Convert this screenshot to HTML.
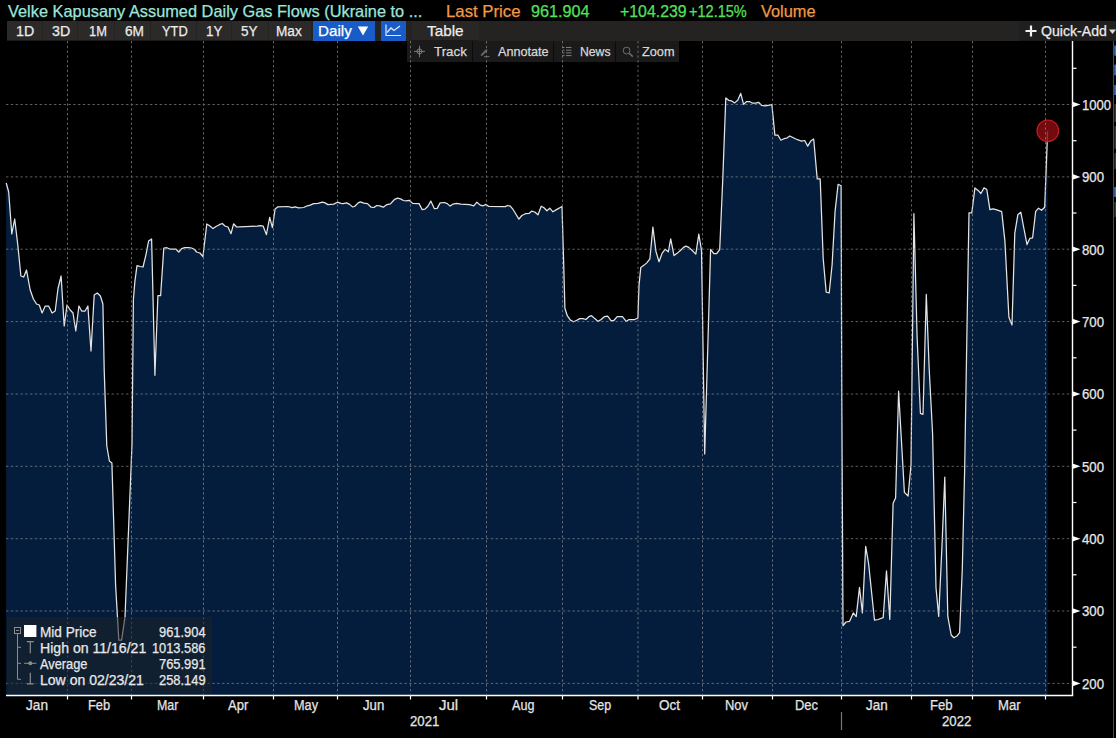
<!DOCTYPE html>
<html><head><meta charset="utf-8"><title>chart</title>
<style>
html,body{margin:0;padding:0;background:#000;}
body{width:1116px;height:738px;position:relative;overflow:hidden;font-family:"Liberation Sans",sans-serif;color:#e6e6e6;}
.abs{position:absolute;white-space:nowrap;}
.ft{position:absolute;white-space:nowrap;transform-origin:0 50%;-webkit-text-stroke:0.25px currentColor;}
.bar{position:absolute;left:7px;top:21px;width:1109px;height:20px;background:#252321;}
.btn{position:absolute;top:21px;height:19px;background:#2b2a29;border-bottom:1px solid #1a1a1a;}
.tool{position:absolute;left:407px;top:41.3px;width:271.5px;height:20.3px;background:#1a1a1a;}
.sep{position:absolute;top:41.3px;width:1.2px;height:20.3px;background:#0b0b0b;}
.xl{position:absolute;top:697px;width:50px;height:16px;line-height:16px;text-align:center;font-size:14px;color:#e0e0e0;}
.xl.yr{top:713px;}
.leg{position:absolute;left:7px;top:616.5px;width:205px;height:77.5px;background:rgba(30,34,40,0.55);}
.lt{position:absolute;height:16px;line-height:16px;font-size:13.5px;color:#e4e4e4;white-space:nowrap;}
</style></head><body>
<div class="tool"></div>
<div class="sep" style="left:472px"></div><div class="sep" style="left:553px"></div><div class="sep" style="left:615px"></div>
<svg width="1116" height="738" viewBox="0 0 1116 738" style="position:absolute;left:0;top:0"><path d="M6.2,183.0 L8.7,192.0 L11.8,234.0 L14.7,219.0 L17.8,245.0 L20.9,276.0 L23.7,277.0 L26.5,270.0 L30.2,290.0 L33.4,299.0 L36.5,304.0 L39.3,305.0 L42.1,313.0 L45.2,306.0 L48.6,306.0 L52.1,313.0 L55.2,311.0 L58.0,288.5 L61.1,276.0 L64.2,326.0 L67.0,305.0 L70.2,310.0 L73.0,313.0 L75.8,331.0 L78.9,306.0 L81.7,311.0 L85.1,311.0 L87.9,306.0 L91.0,351.0 L94.2,295.0 L97.3,293.0 L100.4,296.0 L102.9,304.0 L104.2,370.0 L106.8,446.0 L109.4,461.0 L111.9,463.0 L115.6,585.0 L118.8,640.0 L121.6,640.0 L125.0,617.0 L132.0,444.0 L133.4,299.3 L134.9,281.4 L137.0,265.6 L140.0,266.5 L143.0,267.0 L146.0,254.6 L148.6,241.0 L151.6,239.0 L154.9,375.3 L157.9,295.7 L160.6,295.7 L163.8,248.0 L166.8,247.7 L169.8,249.0 L172.8,249.0 L175.8,249.0 L178.8,252.0 L181.7,248.6 L184.7,247.7 L188.6,247.7 L191.6,248.0 L194.6,249.5 L196.6,252.0 L199.9,253.0 L202.9,256.6 L206.8,224.0 L210.0,226.0 L213.0,228.6 L216.0,226.5 L219.3,224.7 L222.3,223.5 L225.0,226.0 L228.0,227.0 L231.0,233.7 L233.6,223.8 L236.6,227.0 L239.6,226.8 L257.2,226.2 L260.2,225.6 L263.2,226.2 L266.4,234.6 L269.7,217.3 L272.4,227.7 L275.1,209.0 L278.0,206.8 L288.0,206.5 L292.2,207.7 L295.0,206.9 L298.7,207.9 L303.7,207.5 L307.3,205.8 L310.2,205.1 L313.7,203.6 L318.0,203.4 L322.3,202.2 L324.5,202.6 L328.0,204.6 L333.8,204.1 L337.4,202.2 L341.0,203.4 L343.0,203.6 L346.7,202.9 L349.6,204.4 L352.5,206.9 L354.6,206.5 L358.2,202.9 L360.3,201.9 L363.9,203.2 L367.5,203.6 L371.1,207.2 L374.0,207.5 L376.8,205.5 L379.7,205.8 L383.3,207.2 L386.9,204.6 L390.4,203.9 L394.7,199.3 L397.6,198.2 L400.5,198.9 L403.4,200.5 L406.2,200.8 L409.1,200.3 L412.7,203.4 L419.1,203.6 L422.2,209.7 L425.0,209.1 L427.9,206.2 L430.8,201.1 L434.4,208.7 L437.2,208.4 L440.1,202.9 L444.4,202.5 L447.3,203.6 L450.1,206.1 L453.0,204.1 L456.6,203.4 L460.9,204.1 L469.5,204.6 L473.8,205.8 L476.9,202.2 L480.2,205.1 L483.1,205.8 L486.0,204.4 L488.8,206.5 L505.3,206.6 L507.5,205.5 L510.3,206.2 L513.2,209.7 L518.9,219.1 L521.8,215.5 L525.4,213.7 L529.0,213.4 L531.8,211.1 L534.7,212.0 L538.0,214.8 L541.2,206.2 L544.0,207.7 L546.9,210.8 L549.8,208.2 L552.9,211.8 L556.9,209.4 L559.8,207.7 L562.0,206.5 L563.5,256.9 L564.9,308.2 L567.3,315.7 L570.2,319.9 L573.4,321.8 L576.4,320.5 L579.7,318.6 L583.1,318.6 L585.9,319.5 L588.8,316.7 L591.6,315.7 L594.8,318.6 L598.1,321.4 L601.1,319.5 L604.3,316.7 L607.7,316.1 L611.0,320.5 L613.8,320.5 L617.2,316.7 L622.4,316.7 L626.2,321.4 L629.0,319.5 L634.7,319.5 L637.9,318.0 L639.0,285.4 L640.8,267.4 L644.2,265.1 L647.0,262.6 L649.9,258.8 L652.9,227.1 L655.9,251.2 L659.0,261.7 L662.2,253.1 L665.1,249.3 L668.3,251.8 L670.7,238.9 L674.0,255.6 L677.4,253.1 L680.6,250.3 L683.5,247.4 L685.9,246.1 L688.8,247.4 L692.0,250.3 L695.8,254.1 L698.8,234.2 L701.5,250.3 L704.7,454.0 L710.6,249.3 L713.8,253.5 L716.7,253.5 L719.7,249.7 L722.8,178.3 L725.8,97.9 L728.7,100.3 L731.7,100.9 L734.7,102.9 L737.7,100.3 L740.7,93.4 L743.6,104.4 L746.6,101.5 L749.6,101.5 L752.6,103.2 L755.6,103.2 L758.5,102.3 L761.5,105.3 L765.1,105.9 L768.1,105.3 L771.9,104.7 L774.9,135.1 L777.9,135.1 L780.9,140.2 L783.9,138.7 L786.8,138.1 L789.8,136.0 L792.8,137.5 L795.8,139.0 L798.8,140.2 L801.7,141.1 L804.7,140.5 L807.7,146.1 L810.7,141.1 L813.7,139.0 L817.2,178.9 L820.2,178.9 L823.2,258.8 L826.2,292.2 L829.2,293.0 L832.1,264.7 L835.1,211.1 L838.1,184.3 L841.1,185.8 L841.8,400.0 L843.0,625.7 L846.0,622.0 L849.6,621.3 L853.3,612.9 L856.2,616.6 L859.5,587.4 L862.4,612.9 L865.7,546.4 L868.6,563.6 L874.5,620.2 L878.1,619.5 L883.2,617.7 L886.5,570.9 L889.8,619.5 L893.1,503.3 L895.6,497.9 L898.6,391.2 L904.4,492.4 L908.1,496.0 L911.0,465.0 L913.9,213.7 L917.1,336.8 L920.4,413.3 L923.0,414.3 L926.3,294.4 L929.2,369.3 L932.6,433.8 L936.0,587.7 L938.7,616.4 L942.0,545.4 L944.8,477.1 L947.8,616.4 L951.2,635.0 L953.9,637.7 L957.3,635.7 L959.6,632.7 L962.3,569.1 L964.7,467.6 L966.8,340.0 L969.0,212.8 L971.8,212.8 L974.9,187.9 L978.1,190.4 L980.9,193.5 L984.0,187.9 L986.8,189.5 L989.9,209.7 L993.0,208.8 L996.1,209.7 L1001.7,211.6 L1004.9,240.9 L1008.9,317.2 L1012.0,325.0 L1014.8,233.1 L1017.9,214.4 L1020.8,212.2 L1024.2,230.0 L1027.0,244.6 L1029.8,238.4 L1032.6,237.8 L1035.7,211.3 L1038.5,208.2 L1041.6,210.3 L1044.7,207.2 L1047.6,131.2 L1047.6,695.5 L6.2,695.5 Z" fill="#041d3c" stroke="none"/><path d="M6.2,183.0 L8.7,192.0 L11.8,234.0 L14.7,219.0 L17.8,245.0 L20.9,276.0 L23.7,277.0 L26.5,270.0 L30.2,290.0 L33.4,299.0 L36.5,304.0 L39.3,305.0 L42.1,313.0 L45.2,306.0 L48.6,306.0 L52.1,313.0 L55.2,311.0 L58.0,288.5 L61.1,276.0 L64.2,326.0 L67.0,305.0 L70.2,310.0 L73.0,313.0 L75.8,331.0 L78.9,306.0 L81.7,311.0 L85.1,311.0 L87.9,306.0 L91.0,351.0 L94.2,295.0 L97.3,293.0 L100.4,296.0 L102.9,304.0 L104.2,370.0 L106.8,446.0 L109.4,461.0 L111.9,463.0 L115.6,585.0 L118.8,640.0 L121.6,640.0 L125.0,617.0 L132.0,444.0 L133.4,299.3 L134.9,281.4 L137.0,265.6 L140.0,266.5 L143.0,267.0 L146.0,254.6 L148.6,241.0 L151.6,239.0 L154.9,375.3 L157.9,295.7 L160.6,295.7 L163.8,248.0 L166.8,247.7 L169.8,249.0 L172.8,249.0 L175.8,249.0 L178.8,252.0 L181.7,248.6 L184.7,247.7 L188.6,247.7 L191.6,248.0 L194.6,249.5 L196.6,252.0 L199.9,253.0 L202.9,256.6 L206.8,224.0 L210.0,226.0 L213.0,228.6 L216.0,226.5 L219.3,224.7 L222.3,223.5 L225.0,226.0 L228.0,227.0 L231.0,233.7 L233.6,223.8 L236.6,227.0 L239.6,226.8 L257.2,226.2 L260.2,225.6 L263.2,226.2 L266.4,234.6 L269.7,217.3 L272.4,227.7 L275.1,209.0 L278.0,206.8 L288.0,206.5 L292.2,207.7 L295.0,206.9 L298.7,207.9 L303.7,207.5 L307.3,205.8 L310.2,205.1 L313.7,203.6 L318.0,203.4 L322.3,202.2 L324.5,202.6 L328.0,204.6 L333.8,204.1 L337.4,202.2 L341.0,203.4 L343.0,203.6 L346.7,202.9 L349.6,204.4 L352.5,206.9 L354.6,206.5 L358.2,202.9 L360.3,201.9 L363.9,203.2 L367.5,203.6 L371.1,207.2 L374.0,207.5 L376.8,205.5 L379.7,205.8 L383.3,207.2 L386.9,204.6 L390.4,203.9 L394.7,199.3 L397.6,198.2 L400.5,198.9 L403.4,200.5 L406.2,200.8 L409.1,200.3 L412.7,203.4 L419.1,203.6 L422.2,209.7 L425.0,209.1 L427.9,206.2 L430.8,201.1 L434.4,208.7 L437.2,208.4 L440.1,202.9 L444.4,202.5 L447.3,203.6 L450.1,206.1 L453.0,204.1 L456.6,203.4 L460.9,204.1 L469.5,204.6 L473.8,205.8 L476.9,202.2 L480.2,205.1 L483.1,205.8 L486.0,204.4 L488.8,206.5 L505.3,206.6 L507.5,205.5 L510.3,206.2 L513.2,209.7 L518.9,219.1 L521.8,215.5 L525.4,213.7 L529.0,213.4 L531.8,211.1 L534.7,212.0 L538.0,214.8 L541.2,206.2 L544.0,207.7 L546.9,210.8 L549.8,208.2 L552.9,211.8 L556.9,209.4 L559.8,207.7 L562.0,206.5 L563.5,256.9 L564.9,308.2 L567.3,315.7 L570.2,319.9 L573.4,321.8 L576.4,320.5 L579.7,318.6 L583.1,318.6 L585.9,319.5 L588.8,316.7 L591.6,315.7 L594.8,318.6 L598.1,321.4 L601.1,319.5 L604.3,316.7 L607.7,316.1 L611.0,320.5 L613.8,320.5 L617.2,316.7 L622.4,316.7 L626.2,321.4 L629.0,319.5 L634.7,319.5 L637.9,318.0 L639.0,285.4 L640.8,267.4 L644.2,265.1 L647.0,262.6 L649.9,258.8 L652.9,227.1 L655.9,251.2 L659.0,261.7 L662.2,253.1 L665.1,249.3 L668.3,251.8 L670.7,238.9 L674.0,255.6 L677.4,253.1 L680.6,250.3 L683.5,247.4 L685.9,246.1 L688.8,247.4 L692.0,250.3 L695.8,254.1 L698.8,234.2 L701.5,250.3 L704.7,454.0 L710.6,249.3 L713.8,253.5 L716.7,253.5 L719.7,249.7 L722.8,178.3 L725.8,97.9 L728.7,100.3 L731.7,100.9 L734.7,102.9 L737.7,100.3 L740.7,93.4 L743.6,104.4 L746.6,101.5 L749.6,101.5 L752.6,103.2 L755.6,103.2 L758.5,102.3 L761.5,105.3 L765.1,105.9 L768.1,105.3 L771.9,104.7 L774.9,135.1 L777.9,135.1 L780.9,140.2 L783.9,138.7 L786.8,138.1 L789.8,136.0 L792.8,137.5 L795.8,139.0 L798.8,140.2 L801.7,141.1 L804.7,140.5 L807.7,146.1 L810.7,141.1 L813.7,139.0 L817.2,178.9 L820.2,178.9 L823.2,258.8 L826.2,292.2 L829.2,293.0 L832.1,264.7 L835.1,211.1 L838.1,184.3 L841.1,185.8 L841.8,400.0 L843.0,625.7 L846.0,622.0 L849.6,621.3 L853.3,612.9 L856.2,616.6 L859.5,587.4 L862.4,612.9 L865.7,546.4 L868.6,563.6 L874.5,620.2 L878.1,619.5 L883.2,617.7 L886.5,570.9 L889.8,619.5 L893.1,503.3 L895.6,497.9 L898.6,391.2 L904.4,492.4 L908.1,496.0 L911.0,465.0 L913.9,213.7 L917.1,336.8 L920.4,413.3 L923.0,414.3 L926.3,294.4 L929.2,369.3 L932.6,433.8 L936.0,587.7 L938.7,616.4 L942.0,545.4 L944.8,477.1 L947.8,616.4 L951.2,635.0 L953.9,637.7 L957.3,635.7 L959.6,632.7 L962.3,569.1 L964.7,467.6 L966.8,340.0 L969.0,212.8 L971.8,212.8 L974.9,187.9 L978.1,190.4 L980.9,193.5 L984.0,187.9 L986.8,189.5 L989.9,209.7 L993.0,208.8 L996.1,209.7 L1001.7,211.6 L1004.9,240.9 L1008.9,317.2 L1012.0,325.0 L1014.8,233.1 L1017.9,214.4 L1020.8,212.2 L1024.2,230.0 L1027.0,244.6 L1029.8,238.4 L1032.6,237.8 L1035.7,211.3 L1038.5,208.2 L1041.6,210.3 L1044.7,207.2 L1047.6,131.2" fill="none" stroke="#e4e4e4" stroke-width="1.25" stroke-linejoin="round"/><line x1="1072.5" y1="41" x2="1072.5" y2="696.0" stroke="#fff" stroke-width="1.4"/><line x1="6" y1="695.5" x2="1073.2" y2="695.5" stroke="#fff" stroke-width="1.4"/><path d="M1072.5,101.7 L1080.5,104.5 L1072.5,107.3 Z" fill="#fff"/><line x1="1072.5" y1="68.3" x2="1076.5" y2="68.3" stroke="#fff" stroke-width="1.2"/><path d="M1072.5,174.1 L1080.5,176.9 L1072.5,179.70000000000002 Z" fill="#fff"/><line x1="1072.5" y1="140.7" x2="1076.5" y2="140.7" stroke="#fff" stroke-width="1.2"/><path d="M1072.5,246.39999999999998 L1080.5,249.2 L1072.5,252.0 Z" fill="#fff"/><line x1="1072.5" y1="213.0" x2="1076.5" y2="213.0" stroke="#fff" stroke-width="1.2"/><path d="M1072.5,318.8 L1080.5,321.6 L1072.5,324.40000000000003 Z" fill="#fff"/><line x1="1072.5" y1="285.40000000000003" x2="1076.5" y2="285.40000000000003" stroke="#fff" stroke-width="1.2"/><path d="M1072.5,391.2 L1080.5,394.0 L1072.5,396.8 Z" fill="#fff"/><line x1="1072.5" y1="357.8" x2="1076.5" y2="357.8" stroke="#fff" stroke-width="1.2"/><path d="M1072.5,463.5 L1080.5,466.3 L1072.5,469.1 Z" fill="#fff"/><line x1="1072.5" y1="430.1" x2="1076.5" y2="430.1" stroke="#fff" stroke-width="1.2"/><path d="M1072.5,535.9000000000001 L1080.5,538.7 L1072.5,541.5 Z" fill="#fff"/><line x1="1072.5" y1="502.50000000000006" x2="1076.5" y2="502.50000000000006" stroke="#fff" stroke-width="1.2"/><path d="M1072.5,608.2 L1080.5,611.0 L1072.5,613.8 Z" fill="#fff"/><line x1="1072.5" y1="574.8" x2="1076.5" y2="574.8" stroke="#fff" stroke-width="1.2"/><path d="M1072.5,680.6 L1080.5,683.4 L1072.5,686.1999999999999 Z" fill="#fff"/><line x1="1072.5" y1="647.1999999999999" x2="1076.5" y2="647.1999999999999" stroke="#fff" stroke-width="1.2"/><line x1="67.5" y1="695.5" x2="67.5" y2="699.5" stroke="#fff" stroke-width="1.2"/><line x1="131.5" y1="695.5" x2="131.5" y2="699.5" stroke="#fff" stroke-width="1.2"/><line x1="203.5" y1="695.5" x2="203.5" y2="699.5" stroke="#fff" stroke-width="1.2"/><line x1="273.5" y1="695.5" x2="273.5" y2="699.5" stroke="#fff" stroke-width="1.2"/><line x1="337.5" y1="695.5" x2="337.5" y2="699.5" stroke="#fff" stroke-width="1.2"/><line x1="410.5" y1="695.5" x2="410.5" y2="699.5" stroke="#fff" stroke-width="1.2"/><line x1="486.5" y1="695.5" x2="486.5" y2="699.5" stroke="#fff" stroke-width="1.2"/><line x1="562.5" y1="695.5" x2="562.5" y2="699.5" stroke="#fff" stroke-width="1.2"/><line x1="638" y1="695.5" x2="638" y2="699.5" stroke="#fff" stroke-width="1.2"/><line x1="702.5" y1="695.5" x2="702.5" y2="699.5" stroke="#fff" stroke-width="1.2"/><line x1="772.5" y1="695.5" x2="772.5" y2="699.5" stroke="#fff" stroke-width="1.2"/><line x1="841.5" y1="695.5" x2="841.5" y2="699.5" stroke="#fff" stroke-width="1.2"/><line x1="911.5" y1="695.5" x2="911.5" y2="699.5" stroke="#fff" stroke-width="1.2"/><line x1="972.5" y1="695.5" x2="972.5" y2="699.5" stroke="#fff" stroke-width="1.2"/><line x1="1045.5" y1="695.5" x2="1045.5" y2="699.5" stroke="#fff" stroke-width="1.2"/><line x1="841.5" y1="712" x2="841.5" y2="730" stroke="#777" stroke-width="1.2"/><circle cx="1047.8" cy="130.8" r="10.8" fill="#8a0d12" fill-opacity="0.82" stroke="#c21c24" stroke-width="1.2"/><g stroke="#9a9a9a" stroke-width="1" stroke-dasharray="2.4,2.4" fill="none" opacity="0.62"><line x1="6" y1="104.5" x2="1072.5" y2="104.5"/><line x1="6" y1="176.9" x2="1072.5" y2="176.9"/><line x1="6" y1="249.2" x2="1072.5" y2="249.2"/><line x1="6" y1="321.6" x2="1072.5" y2="321.6"/><line x1="6" y1="394.0" x2="1072.5" y2="394.0"/><line x1="6" y1="466.3" x2="1072.5" y2="466.3"/><line x1="6" y1="538.7" x2="1072.5" y2="538.7"/><line x1="6" y1="611.0" x2="1072.5" y2="611.0"/><line x1="6" y1="683.4" x2="1072.5" y2="683.4"/><line x1="67.5" y1="41" x2="67.5" y2="695.5"/><line x1="131.5" y1="41" x2="131.5" y2="695.5"/><line x1="203.5" y1="41" x2="203.5" y2="695.5"/><line x1="273.5" y1="41" x2="273.5" y2="695.5"/><line x1="337.5" y1="41" x2="337.5" y2="695.5"/><line x1="410.5" y1="41" x2="410.5" y2="695.5"/><line x1="486.5" y1="41" x2="486.5" y2="695.5"/><line x1="562.5" y1="41" x2="562.5" y2="695.5"/><line x1="638" y1="41" x2="638" y2="695.5"/><line x1="702.5" y1="41" x2="702.5" y2="695.5"/><line x1="772.5" y1="41" x2="772.5" y2="695.5"/><line x1="841.5" y1="41" x2="841.5" y2="695.5"/><line x1="911.5" y1="41" x2="911.5" y2="695.5"/><line x1="972.5" y1="41" x2="972.5" y2="695.5"/><line x1="1045.5" y1="41" x2="1045.5" y2="695.5"/></g><line x1="1113.5" y1="41" x2="1113.5" y2="738" stroke="#4a4a4a" stroke-width="1"/><rect x="1114.3" y="45.5" width="1.7" height="10.200000000000003" fill="#3b74c9"/><rect x="1114.3" y="64.6" width="1.7" height="10.800000000000011" fill="#3b74c9"/><rect x="1114.3" y="85" width="1.7" height="10" fill="#3b74c9"/><rect x="1114.3" y="187" width="1.7" height="10" fill="#3b74c9"/><rect x="1114.5" y="104" width="1.5" height="18" fill="#3a3a3a"/><rect x="1114.5" y="126" width="1.5" height="23" fill="#3a3a3a"/><rect x="1114.5" y="153" width="1.5" height="16" fill="#3a3a3a"/><rect x="1114.5" y="202" width="1.5" height="15" fill="#3a3a3a"/></svg>

<div class="bar"></div>
<div class="btn" style="left:7px;width:35px"></div><div class="btn" style="left:43px;width:34px"></div><div class="btn" style="left:78px;width:36px"></div><div class="btn" style="left:115px;width:35px"></div><div class="btn" style="left:151px;width:45px"></div><div class="btn" style="left:197px;width:34px"></div><div class="btn" style="left:232px;width:36px"></div><div class="btn" style="left:269px;width:42px"></div><div class="btn" style="left:313px;width:62px;background:#1a5cc7;border-bottom-color:#1a5cc7;"></div><svg class="abs" style="left:357px;top:25px" width="12" height="12" viewBox="0 0 12 12"><path d="M0.8,1.5 H11.2 L6,10.5 Z" fill="#fff"/></svg><div class="btn" style="left:381px;width:25px;background:#1a5cc7;border-bottom-color:#1a5cc7;"><svg width="17" height="13" viewBox="0 0 17 13" style="position:absolute;left:4px;top:3px"><path d="M1,0.5 V11.5 H16" fill="none" stroke="#dfe9ff" stroke-width="1.2"/><path d="M2,8.5 L6,4 L9,6.5 L15,2" fill="none" stroke="#dfe9ff" stroke-width="1.3"/></svg></div><div class="btn" style="left:412px;width:67px;background:#292726;"></div><div class="btn" style="left:1019px;width:97px;background:#1f1f1f;"></div><svg class="abs" style="left:1025px;top:25px" width="12" height="12" viewBox="0 0 12 12"><path d="M6,0.5V11.5M0.5,6H11.5" stroke="#f0f0f0" stroke-width="2.2"/></svg><svg class="abs" style="left:1109px;top:29px" width="7" height="6" viewBox="0 0 7 6"><path d="M0,0.5H7L3.5,5Z" fill="#ddd"/></svg>
<svg class="abs" style="left:413px;top:45px" width="13" height="13" viewBox="0 0 13 13"><circle cx="6.5" cy="6.4" r="2.5" fill="none" stroke="#858585" stroke-width="0.9"/><path d="M6.5,0.8V12.2M1,6.4H12" stroke="#858585" stroke-width="0.9"/></svg>
<svg class="abs" style="left:479px;top:46px" width="12" height="12" viewBox="0 0 12 12"><path d="M2.2,8.3 L7.2,3 L8.6,4.4 L3.6,9.6 L1.8,10 Z" fill="#6a6a6a" stroke="none"/><path d="M5,10.6 H10.5" stroke="#6a6a6a" stroke-width="1"/></svg>
<svg class="abs" style="left:562px;top:46px" width="10" height="11" viewBox="0 0 10 11"><path d="M0.5,1.5H2.5M4,1.5H9.5M0.5,4.2H2.5M4,4.2H9.5M0.5,6.9H2.5M4,6.9H9.5M0.5,9.6H2.5M4,9.6H9.5" stroke="#7c7c7c" stroke-width="1"/></svg>
<svg class="abs" style="left:622px;top:46px" width="12" height="12" viewBox="0 0 12 12"><circle cx="4.6" cy="4.6" r="3.4" fill="none" stroke="#6e6e6e" stroke-width="1"/><path d="M7.2,7.2 L10.8,10.6" stroke="#6e6e6e" stroke-width="1.5"/></svg>
<div class="leg"></div>
<svg class="abs" style="left:7px;top:617px" width="40" height="76" viewBox="0 0 40 76">
<rect x="7.5" y="10.5" width="6" height="6" fill="none" stroke="#8c8c8c" stroke-width="1"/><path d="M9,13.5H12" stroke="#8c8c8c" stroke-width="1"/>
<path d="M10.5,17 V62.3 H14 M10.5,30.3 H14 M10.5,46.3 H14" fill="none" stroke="#8c8c8c" stroke-width="1"/>
<rect x="17" y="8" width="12.4" height="12" fill="#fff"/>
<path d="M19.8,24.6H26.8 M23.3,24.6V36.3" stroke="#8c8c8c" stroke-width="1.2" fill="none"/>
<path d="M17,46.3H29.4" stroke="#8c8c8c" stroke-width="1"/><circle cx="23.3" cy="46.3" r="2" fill="#8c8c8c"/>
<path d="M19.8,66.8H26.8 M23.3,55.8V66.8" stroke="#8c8c8c" stroke-width="1.2" fill="none"/>
</svg>
<div id="ttl" class="ft" style="left:7.60px;top:1.2px;height:20px;line-height:20px;font-size:16.5px;color:#98e6dc;transform:scaleX(0.9909);">Velke Kapusany Assumed Daily Gas Flows (Ukraine to ...</div><div id="lp" class="ft" style="left:446.20px;top:1.2px;height:20px;line-height:20px;font-size:16.5px;color:#f39843;transform:scaleX(1.0153);">Last Price</div><div id="pv" class="ft" style="left:531.00px;top:1.2px;height:20px;line-height:20px;font-size:16.5px;color:#55e15c;transform:scaleX(0.9823);">961.904</div><div id="ch" class="ft" style="left:620.10px;top:1.2px;height:20px;line-height:20px;font-size:16.5px;color:#55e15c;transform:scaleX(0.9613);">+104.239</div><div id="pc" class="ft" style="left:689.10px;top:1.2px;height:20px;line-height:20px;font-size:16.5px;color:#55e15c;transform:scaleX(0.8810);">+12.15%</div><div id="vo" class="ft" style="left:761.30px;top:1.2px;height:20px;line-height:20px;font-size:16.5px;color:#f39843;transform:scaleX(0.9919);">Volume</div><div id="b1D" class="ft" style="left:15.60px;top:20.8px;height:20px;line-height:20px;font-size:15.5px;color:#ececec;transform:scaleX(0.9179);">1D</div><div id="b3D" class="ft" style="left:51.50px;top:20.8px;height:20px;line-height:20px;font-size:15.5px;color:#ececec;transform:scaleX(0.9179);">3D</div><div id="b1M" class="ft" style="left:88.90px;top:20.8px;height:20px;line-height:20px;font-size:15.5px;color:#ececec;transform:scaleX(0.8307);">1M</div><div id="b6M" class="ft" style="left:124.70px;top:20.8px;height:20px;line-height:20px;font-size:15.5px;color:#ececec;transform:scaleX(0.8818);">6M</div><div id="bYTD" class="ft" style="left:161.90px;top:20.8px;height:20px;line-height:20px;font-size:15.5px;color:#ececec;transform:scaleX(0.8290);">YTD</div><div id="b1Y" class="ft" style="left:205.80px;top:20.8px;height:20px;line-height:20px;font-size:15.5px;color:#ececec;transform:scaleX(0.8646);">1Y</div><div id="b5Y" class="ft" style="left:240.60px;top:20.8px;height:20px;line-height:20px;font-size:15.5px;color:#ececec;transform:scaleX(0.8699);">5Y</div><div id="bMax" class="ft" style="left:276.30px;top:20.8px;height:20px;line-height:20px;font-size:15.5px;color:#ececec;transform:scaleX(0.8806);">Max</div><div id="bDaily" class="ft" style="left:317.70px;top:20.8px;height:20px;line-height:20px;font-size:15.5px;color:#fff;transform:scaleX(0.9810);">Daily</div><div id="bTable" class="ft" style="left:427.30px;top:20.8px;height:20px;line-height:20px;font-size:15.5px;color:#ececec;transform:scaleX(0.9875);">Table</div><div id="qa" class="ft" style="left:1040.50px;top:20.8px;height:20px;line-height:20px;font-size:15.5px;color:#ececec;transform:scaleX(0.9105);">Quick-Add</div><div id="tTrack" class="ft" style="left:433.60px;top:42px;height:19px;line-height:19px;font-size:13px;color:#d8d8d8;transform:scaleX(1.0240);">Track</div><div id="tAnn" class="ft" style="left:497.60px;top:42px;height:19px;line-height:19px;font-size:13px;color:#d8d8d8;transform:scaleX(0.9722);">Annotate</div><div id="tNews" class="ft" style="left:579.90px;top:42px;height:19px;line-height:19px;font-size:13px;color:#d8d8d8;transform:scaleX(0.9380);">News</div><div id="tZoom" class="ft" style="left:641.70px;top:42px;height:19px;line-height:19px;font-size:13px;color:#d8d8d8;transform:scaleX(0.9779);">Zoom</div><div id="y1000" class="ft" style="left:1081.70px;top:96.9px;height:17px;line-height:17px;font-size:14px;color:#e8e8e8;transform:scaleX(0.9308);">1000</div><div id="y900" class="ft" style="left:1081.70px;top:169.3px;height:17px;line-height:17px;font-size:14px;color:#e8e8e8;transform:scaleX(0.9418);">900</div><div id="y800" class="ft" style="left:1081.70px;top:241.6px;height:17px;line-height:17px;font-size:14px;color:#e8e8e8;transform:scaleX(0.9418);">800</div><div id="y700" class="ft" style="left:1081.70px;top:314.0px;height:17px;line-height:17px;font-size:14px;color:#e8e8e8;transform:scaleX(0.9418);">700</div><div id="y600" class="ft" style="left:1081.70px;top:386.4px;height:17px;line-height:17px;font-size:14px;color:#e8e8e8;transform:scaleX(0.9418);">600</div><div id="y500" class="ft" style="left:1081.70px;top:458.7px;height:17px;line-height:17px;font-size:14px;color:#e8e8e8;transform:scaleX(0.9418);">500</div><div id="y400" class="ft" style="left:1081.70px;top:531.1px;height:17px;line-height:17px;font-size:14px;color:#e8e8e8;transform:scaleX(0.9418);">400</div><div id="y300" class="ft" style="left:1081.70px;top:603.4px;height:17px;line-height:17px;font-size:14px;color:#e8e8e8;transform:scaleX(0.9418);">300</div><div id="y200" class="ft" style="left:1081.70px;top:675.8px;height:17px;line-height:17px;font-size:14px;color:#e8e8e8;transform:scaleX(0.9418);">200</div><div id="x0" class="ft" style="left:25.60px;top:697px;height:17px;line-height:17px;font-size:14px;color:#e4e4e4;transform:scaleX(0.9744);">Jan</div><div id="x1" class="ft" style="left:87.60px;top:697px;height:17px;line-height:17px;font-size:14px;color:#e4e4e4;transform:scaleX(0.9202);">Feb</div><div id="x2" class="ft" style="left:156.90px;top:697px;height:17px;line-height:17px;font-size:14px;color:#e4e4e4;transform:scaleX(0.8870);">Mar</div><div id="x3" class="ft" style="left:228.30px;top:697px;height:17px;line-height:17px;font-size:14px;color:#e4e4e4;transform:scaleX(0.9313);">Apr</div><div id="x4" class="ft" style="left:293.60px;top:697px;height:17px;line-height:17px;font-size:14px;color:#e4e4e4;transform:scaleX(0.9073);">May</div><div id="x5" class="ft" style="left:362.90px;top:697px;height:17px;line-height:17px;font-size:14px;color:#e4e4e4;transform:scaleX(0.9434);">Jun</div><div id="x6" class="ft" style="left:438.50px;top:697px;height:17px;line-height:17px;font-size:14px;color:#e4e4e4;transform:scaleX(1.0667);">Jul</div><div id="x7" class="ft" style="left:512.30px;top:697px;height:17px;line-height:17px;font-size:14px;color:#e4e4e4;transform:scaleX(0.8988);">Aug</div><div id="x8" class="ft" style="left:588.70px;top:697px;height:17px;line-height:17px;font-size:14px;color:#e4e4e4;transform:scaleX(0.8868);">Sep</div><div id="x9" class="ft" style="left:659.40px;top:697px;height:17px;line-height:17px;font-size:14px;color:#e4e4e4;transform:scaleX(0.9641);">Oct</div><div id="x10" class="ft" style="left:725.40px;top:697px;height:17px;line-height:17px;font-size:14px;color:#e4e4e4;transform:scaleX(0.9235);">Nov</div><div id="x11" class="ft" style="left:794.70px;top:697px;height:17px;line-height:17px;font-size:14px;color:#e4e4e4;transform:scaleX(0.9235);">Dec</div><div id="x12" class="ft" style="left:865.50px;top:697px;height:17px;line-height:17px;font-size:14px;color:#e4e4e4;transform:scaleX(0.9567);">Jan</div><div id="x13" class="ft" style="left:930.40px;top:697px;height:17px;line-height:17px;font-size:14px;color:#e4e4e4;transform:scaleX(0.9368);">Feb</div><div id="x14" class="ft" style="left:997.50px;top:697px;height:17px;line-height:17px;font-size:14px;color:#e4e4e4;transform:scaleX(0.9368);">Mar</div><div id="yr1" class="ft" style="left:409.50px;top:713px;height:17px;line-height:17px;font-size:14px;color:#e4e4e4;transform:scaleX(0.9404);">2021</div><div id="yr2" class="ft" style="left:942.30px;top:713px;height:17px;line-height:17px;font-size:14px;color:#e4e4e4;transform:scaleX(0.9436);">2022</div><div id="la0" class="ft" style="left:39.90px;top:624.2px;height:16px;line-height:16px;font-size:14px;color:#e8e8e8;transform:scaleX(0.9699);">Mid Price</div><div id="lb0" class="ft" style="left:159.10px;top:624.2px;height:16px;line-height:16px;font-size:14px;color:#e8e8e8;transform:scaleX(0.9208);">961.904</div><div id="la1" class="ft" style="left:39.90px;top:640px;height:16px;line-height:16px;font-size:14px;color:#e8e8e8;transform:scaleX(1.0065);">High on 11/16/21</div><div id="lb1" class="ft" style="left:152.30px;top:640px;height:16px;line-height:16px;font-size:14px;color:#e8e8e8;transform:scaleX(0.9143);">1013.586</div><div id="la2" class="ft" style="left:39.90px;top:656px;height:16px;line-height:16px;font-size:14px;color:#e8e8e8;transform:scaleX(0.9132);">Average</div><div id="lb2" class="ft" style="left:159.10px;top:656px;height:16px;line-height:16px;font-size:14px;color:#e8e8e8;transform:scaleX(0.9208);">765.991</div><div id="la3" class="ft" style="left:39.90px;top:672.2px;height:16px;line-height:16px;font-size:14px;color:#e8e8e8;transform:scaleX(1.0026);">Low on 02/23/21</div><div id="lb3" class="ft" style="left:159.10px;top:672.2px;height:16px;line-height:16px;font-size:14px;color:#e8e8e8;transform:scaleX(0.9208);">258.149</div>
</body></html>
